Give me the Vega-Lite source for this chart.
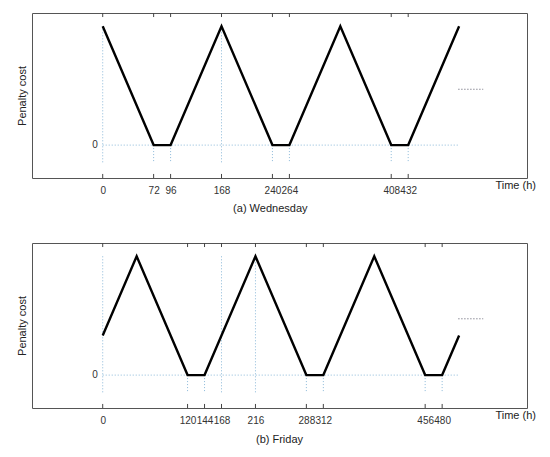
{
  "$schema": "https://vega.github.io/schema/vega-lite/v6.json",
  "padding": {"left": 15, "top": 12, "right": 0, "bottom": 0},
  "spacing": 27,
  "config": {
    "view": {"stroke": "#555", "strokeWidth": 1},
    "font": "Liberation Sans",
    "axis": {"grid": false, "labelFont": "Liberation Sans", "titleFont": "Liberation Sans"}
  },
  "datasets": {
    "one": [{}],
    "wed": [
      {"t": 0, "cost": 1}, {"t": 72, "cost": 0}, {"t": 96, "cost": 0}, {"t": 168, "cost": 1},
      {"t": 240, "cost": 0}, {"t": 264, "cost": 0}, {"t": 336, "cost": 1}, {"t": 408, "cost": 0},
      {"t": 432, "cost": 0}, {"t": 504, "cost": 1}
    ],
    "wedMarks": [
      {"t": 0, "top": 1}, {"t": 72, "top": 0}, {"t": 96, "top": 0}, {"t": 168, "top": 1},
      {"t": 240, "top": 0}, {"t": 264, "top": 0}, {"t": 408, "top": 0}, {"t": 432, "top": 0}
    ],
    "fri": [
      {"t": 0, "cost": 0.333}, {"t": 48, "cost": 1}, {"t": 120, "cost": 0}, {"t": 144, "cost": 0},
      {"t": 216, "cost": 1}, {"t": 288, "cost": 0}, {"t": 312, "cost": 0}, {"t": 384, "cost": 1},
      {"t": 456, "cost": 0}, {"t": 480, "cost": 0}, {"t": 504, "cost": 0.333}
    ],
    "friMarks": [
      {"t": 0, "top": 1}, {"t": 120, "top": 0}, {"t": 144, "top": 0}, {"t": 168, "top": 1},
      {"t": 216, "top": 1}, {"t": 288, "top": 0}, {"t": 312, "top": 0}, {"t": 456, "top": 0}, {"t": 480, "top": 0}
    ]
  },
  "vconcat": [
    {
      "width": 495,
      "height": 165,
      "layer": [
        {
          "data": {"name": "one"},
          "mark": {"type": "rule", "stroke": "#8ab8d8", "strokeDash": [1, 2], "strokeWidth": 1},
          "encoding": {
            "x": {"datum": 0, "type": "quantitative"},
            "x2": {"datum": 504},
            "y": {"datum": 0, "type": "quantitative"}
          }
        },
        {
          "data": {"name": "wedMarks"},
          "mark": {"type": "rule", "stroke": "#8ab8d8", "strokeDash": [1, 2], "strokeWidth": 1},
          "encoding": {
            "x": {"field": "t", "type": "quantitative"},
            "y": {"field": "top", "type": "quantitative"},
            "y2": {"datum": -0.15}
          }
        },
        {
          "data": {"name": "wedMarks"},
          "mark": {"type": "rule", "stroke": "#444", "strokeWidth": 1},
          "encoding": {
            "x": {"field": "t", "type": "quantitative"},
            "y": {"datum": 1.112, "type": "quantitative"},
            "y2": {"datum": 1.078}
          }
        },
        {
          "data": {"name": "wedMarks"},
          "mark": {"type": "rule", "stroke": "#444", "strokeWidth": 1},
          "encoding": {
            "x": {"field": "t", "type": "quantitative"},
            "y": {"datum": -0.277, "type": "quantitative"},
            "y2": {"datum": -0.243}
          }
        },
        {
          "data": {"name": "wed"},
          "mark": {"type": "line", "color": "#000", "strokeWidth": 2.4},
          "encoding": {
            "x": {
              "field": "t", "type": "quantitative",
              "scale": {"domain": [-100, 600], "nice": false, "zero": false},
              "axis": {"values": [0, 72, 96, 168, 240, 264, 408, 432], "ticks": false, "domain": false, "labelPadding": 7, "labelFontSize": 10, "labelColor": "#333", "labelOverlap": false, "labelFlush": false, "title": null}
            },
            "y": {
              "field": "cost", "type": "quantitative",
              "scale": {"domain": [-0.277, 1.112], "nice": false, "zero": false},
              "axis": {"labels": false, "ticks": false, "domain": false, "title": "Penalty cost", "titlePadding": 5, "titleFontSize": 11, "titleFontWeight": "normal", "titleColor": "#222"}
            }
          }
        },
        {
          "data": {"name": "one"},
          "mark": {"type": "rule", "stroke": "#556", "strokeDash": [1, 2], "strokeWidth": 1},
          "encoding": {
            "x": {"datum": 503, "type": "quantitative"},
            "x2": {"datum": 538},
            "y": {"datum": 0.47, "type": "quantitative"}
          }
        },
        {
          "data": {"name": "one"},
          "mark": {"type": "text", "align": "right", "baseline": "middle", "fontSize": 10, "color": "#333"},
          "encoding": {
            "x": {"datum": -7, "type": "quantitative"},
            "y": {"datum": 0, "type": "quantitative"},
            "text": {"value": "0"}
          }
        },
        {
          "data": {"name": "one"},
          "mark": {"type": "text", "align": "center", "baseline": "middle", "fontSize": 11, "color": "#222"},
          "encoding": {
            "x": {"datum": 584, "type": "quantitative"},
            "y": {"datum": -0.345, "type": "quantitative"},
            "text": {"value": "Time (h)"}
          }
        },
        {
          "data": {"name": "one"},
          "mark": {"type": "text", "align": "center", "baseline": "middle", "fontSize": 11, "color": "#222"},
          "encoding": {
            "x": {"datum": 237, "type": "quantitative"},
            "y": {"datum": -0.538, "type": "quantitative"},
            "text": {"value": "(a) Wednesday"}
          }
        }
      ]
    },
    {
      "width": 495,
      "height": 165,
      "layer": [
        {
          "data": {"name": "one"},
          "mark": {"type": "rule", "stroke": "#8ab8d8", "strokeDash": [1, 2], "strokeWidth": 1},
          "encoding": {
            "x": {"datum": 0, "type": "quantitative"},
            "x2": {"datum": 504},
            "y": {"datum": 0, "type": "quantitative"}
          }
        },
        {
          "data": {"name": "friMarks"},
          "mark": {"type": "rule", "stroke": "#8ab8d8", "strokeDash": [1, 2], "strokeWidth": 1},
          "encoding": {
            "x": {"field": "t", "type": "quantitative"},
            "y": {"field": "top", "type": "quantitative"},
            "y2": {"datum": -0.145}
          }
        },
        {
          "data": {"name": "friMarks"},
          "mark": {"type": "rule", "stroke": "#444", "strokeWidth": 1},
          "encoding": {
            "x": {"field": "t", "type": "quantitative"},
            "y": {"datum": 1.112, "type": "quantitative"},
            "y2": {"datum": 1.078}
          }
        },
        {
          "data": {"name": "friMarks"},
          "mark": {"type": "rule", "stroke": "#444", "strokeWidth": 1},
          "encoding": {
            "x": {"field": "t", "type": "quantitative"},
            "y": {"datum": -0.277, "type": "quantitative"},
            "y2": {"datum": -0.243}
          }
        },
        {
          "data": {"name": "fri"},
          "mark": {"type": "line", "color": "#000", "strokeWidth": 2.4},
          "encoding": {
            "x": {
              "field": "t", "type": "quantitative",
              "scale": {"domain": [-100, 600], "nice": false, "zero": false},
              "axis": {"values": [0, 120, 144, 168, 216, 288, 312, 456, 480], "ticks": false, "domain": false, "labelPadding": 7, "labelFontSize": 10, "labelColor": "#333", "labelOverlap": false, "labelFlush": false, "title": null}
            },
            "y": {
              "field": "cost", "type": "quantitative",
              "scale": {"domain": [-0.277, 1.112], "nice": false, "zero": false},
              "axis": {"labels": false, "ticks": false, "domain": false, "title": "Penalty cost", "titlePadding": 5, "titleFontSize": 11, "titleFontWeight": "normal", "titleColor": "#222"}
            }
          }
        },
        {
          "data": {"name": "one"},
          "mark": {"type": "rule", "stroke": "#556", "strokeDash": [1, 2], "strokeWidth": 1},
          "encoding": {
            "x": {"datum": 503, "type": "quantitative"},
            "x2": {"datum": 538},
            "y": {"datum": 0.474, "type": "quantitative"}
          }
        },
        {
          "data": {"name": "one"},
          "mark": {"type": "text", "align": "right", "baseline": "middle", "fontSize": 10, "color": "#333"},
          "encoding": {
            "x": {"datum": -7, "type": "quantitative"},
            "y": {"datum": 0, "type": "quantitative"},
            "text": {"value": "0"}
          }
        },
        {
          "data": {"name": "one"},
          "mark": {"type": "text", "align": "center", "baseline": "middle", "fontSize": 11, "color": "#222"},
          "encoding": {
            "x": {"datum": 584, "type": "quantitative"},
            "y": {"datum": -0.345, "type": "quantitative"},
            "text": {"value": "Time (h)"}
          }
        },
        {
          "data": {"name": "one"},
          "mark": {"type": "text", "align": "center", "baseline": "middle", "fontSize": 11, "color": "#222"},
          "encoding": {
            "x": {"datum": 250, "type": "quantitative"},
            "y": {"datum": -0.546, "type": "quantitative"},
            "text": {"value": "(b) Friday"}
          }
        }
      ]
    }
  ]
}
